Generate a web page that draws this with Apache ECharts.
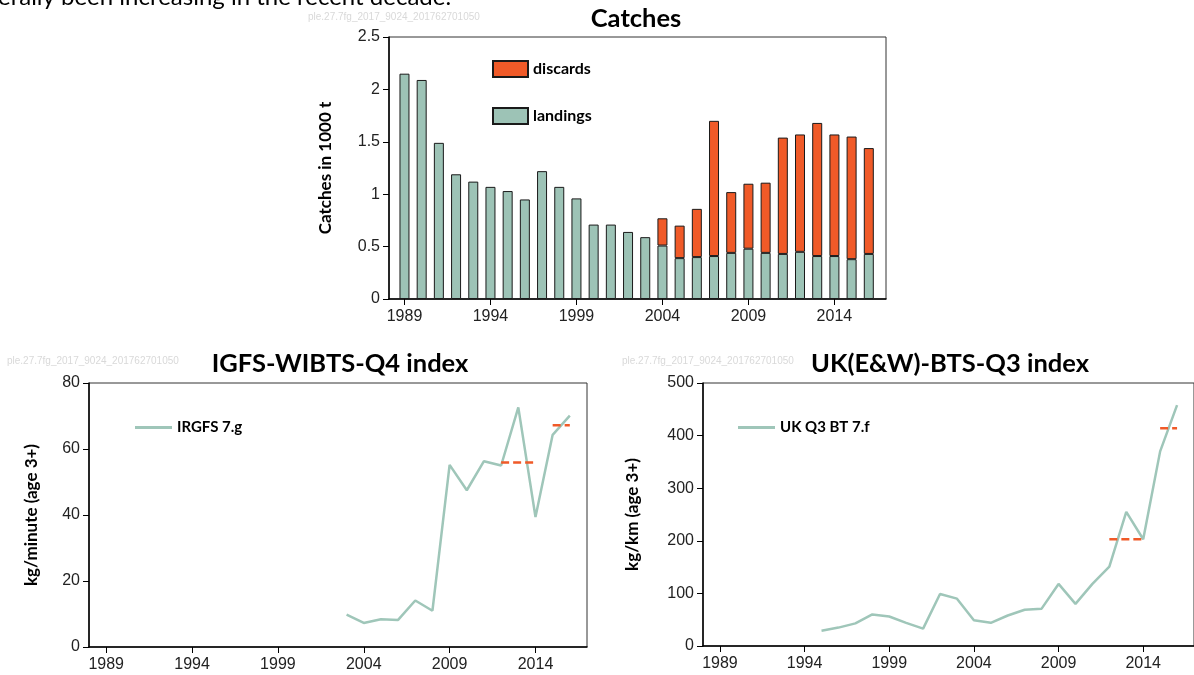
<!DOCTYPE html>
<html>
<head>
<meta charset="utf-8">
<title>Catches and survey indices</title>
<script src="https://cdn.jsdelivr.net/npm/echarts@6/dist/echarts.min.js"></script>
<style>
html, body { margin: 0; padding: 0; background: #fff; }
#main { width: 1194px; height: 675px; }
</style>
</head>
<body>
<div id="main"></div>
<script>
// catches (1000 t)
var years = [1989, 1990, 1991, 1992, 1993, 1994, 1995, 1996, 1997, 1998, 1999, 2000, 2001, 2002,
             2003, 2004, 2005, 2006, 2007, 2008, 2009, 2010, 2011, 2012, 2013, 2014, 2015, 2016];
var landings = [2.15, 2.09, 1.49, 1.19, 1.12, 1.07, 1.03, 0.95, 1.22, 1.07, 0.96, 0.71, 0.71, 0.64,
                0.59, 0.51, 0.39, 0.40, 0.41, 0.44, 0.48, 0.44, 0.43, 0.45, 0.41, 0.41, 0.38, 0.43];
var discards = [null, null, null, null, null, null, null, null, null, null, null, null, null, null,
                null, 0.26, 0.31, 0.46, 1.29, 0.58, 0.62, 0.67, 1.11, 1.12, 1.27, 1.16, 1.17, 1.01];
var yearTicks = [1989, 1994, 1999, 2004, 2009, 2014];

// IGFS-WIBTS-Q4 index (kg/minute)
var igfsYears = [2003, 2004, 2005, 2006, 2007, 2008, 2009, 2010, 2011, 2012, 2013, 2014, 2015, 2016];
var igfsIndex = [9.8, 7.3, 8.4, 8.2, 14.1, 11.0, 55.2, 47.5, 56.3, 55.0, 72.6, 39.4, 64.3, 70.1];
// UK(E&W)-BTS-Q3 index (kg/km)
var ukYears = [1995, 1996, 1997, 1998, 1999, 2000, 2001, 2002, 2003, 2004, 2005,
               2006, 2007, 2008, 2009, 2010, 2011, 2012, 2013, 2014, 2015, 2016];
var ukIndex = [29, 35, 43, 60, 56, 44, 33, 99, 90, 49, 44,
               58, 69, 71, 118, 80, 118, 151, 255, 203, 370, 458];
// dashed averages: 2012-2014 and 2015-2016
var meanPeriods = [[2012, 2014], [2015, 2016]];
var igfsMeans = [55.9, 67.2];
var ukMeans = [203, 414];

var tealFill = '#9dc3b6';
var teal = '#9fc6b9';
var orange = '#f05a28';
var tickFont = 'Liberation Sans, Arial, sans-serif';
var boldFont = 'Lato, Open Sans, sans-serif';

var myChart = echarts.init(document.getElementById('main'));

function xAxisFor(gi, min) {
    return {
        type: 'value', gridIndex: gi, min: min, max: 2017,
        axisLine: { show: true, onZero: false, lineStyle: { color: '#000', width: 1.5 } },
        axisTick: { show: true, customValues: yearTicks, length: 6, lineStyle: { color: '#000', width: 1 } },
        axisLabel: {
            customValues: yearTicks, margin: 10, fontSize: 16, fontFamily: tickFont, color: '#222',
            formatter: function (v) { return String(v); }
        },
        splitLine: { show: false }
    };
}

function yAxisFor(gi, max, interval, name, gap) {
    return {
        type: 'value', gridIndex: gi, min: 0, max: max, interval: interval,
        name: name, nameLocation: 'middle', nameGap: gap, nameRotate: 90,
        nameTextStyle: { fontSize: 17, fontWeight: 'bold', fontFamily: boldFont, color: '#000' },
        axisLine: { show: true, lineStyle: { color: '#000', width: 1.5 } },
        axisTick: { show: true, length: 6, lineStyle: { color: '#000', width: 1 } },
        axisLabel: { margin: 9, fontSize: 16, fontFamily: tickFont, color: '#222' },
        splitLine: { show: false }
    };
}

function pairs(xs, ys) {
    return xs.map(function (x, i) { return [x, ys[i]]; });
}

var series = [
    // bars live on a hidden category axis laid exactly over the year scale of grid 0
    {
        name: 'landings', type: 'bar', stack: 'catch', xAxisIndex: 3, yAxisIndex: 3,
        barWidth: 10,
        itemStyle: { color: tealFill, borderColor: '#1a1a1a', borderWidth: 1 },
        data: landings
    },
    {
        name: 'discards', type: 'bar', stack: 'catch', xAxisIndex: 3, yAxisIndex: 3,
        barWidth: 10,
        itemStyle: { color: orange, borderColor: '#1a1a1a', borderWidth: 1 },
        data: discards
    },
    {
        name: 'IRGFS 7.g', type: 'line', xAxisIndex: 1, yAxisIndex: 1,
        symbol: 'none', lineStyle: { color: teal, width: 2.5 }, itemStyle: { color: teal },
        data: pairs(igfsYears, igfsIndex)
    },
    {
        name: 'UK Q3 BT 7.f', type: 'line', xAxisIndex: 2, yAxisIndex: 2,
        symbol: 'none', lineStyle: { color: teal, width: 2.5 }, itemStyle: { color: teal },
        data: pairs(ukYears, ukIndex)
    }
];

// dashed mean lines
meanPeriods.forEach(function (p, i) {
    series.push({
        name: 'igfsMean' + i, type: 'line', xAxisIndex: 1, yAxisIndex: 1, symbol: 'none', z: 3,
        lineStyle: { color: orange, width: 2.5, type: [8, 4] },
        data: [[p[0], igfsMeans[i]], [p[1], igfsMeans[i]]]
    });
    series.push({
        name: 'ukMean' + i, type: 'line', xAxisIndex: 2, yAxisIndex: 2, symbol: 'none', z: 3,
        lineStyle: { color: orange, width: 2.5, type: [8, 4] },
        data: [[p[0], ukMeans[i]], [p[1], ukMeans[i]]]
    });
});

function label(text, x, y, size, weight, color, font, align) {
    return {
        type: 'text', x: x, y: y, silent: true,
        style: {
            text: text, fontSize: size, fontWeight: weight, fill: color, fontFamily: font,
            align: align || 'left', verticalAlign: 'middle'
        }
    };
}

// top frame: 1988.1 .. 2017 over 497 px
var topLeft = 389, topWidth = 497, topMin = 1988.1, topMax = 2017;
var pxPerYear = topWidth / (topMax - topMin);
var barGridLeft = topLeft + (years[0] - 0.5 - topMin) * pxPerYear;

var option = {
    animation: false,
    backgroundColor: '#fff',
    grid: [
        { left: topLeft, top: 37, width: topWidth, height: 262, show: true, borderColor: '#333', borderWidth: 1 },
        { left: 89, top: 383, width: 498, height: 264, show: true, borderColor: '#333', borderWidth: 1 },
        { left: 703, top: 383, width: 498, height: 263, show: true, borderColor: '#333', borderWidth: 1 },
        { left: barGridLeft, top: 37, width: years.length * pxPerYear, height: 262, show: false }
    ],
    xAxis: [
        xAxisFor(0, topMin), xAxisFor(1, 1988), xAxisFor(2, 1988),
        {
            type: 'category', gridIndex: 3, data: years, boundaryGap: true,
            axisLine: { show: false }, axisTick: { show: false }, axisLabel: { show: false },
            splitLine: { show: false }
        }
    ],
    yAxis: [
        yAxisFor(0, 2.5, 0.5, 'Catches in 1000 t', 55),
        yAxisFor(1, 80, 20, 'kg/minute (age 3+)', 49),
        yAxisFor(2, 500, 100, 'kg/km (age 3+)', 62),
        {
            type: 'value', gridIndex: 3, min: 0, max: 2.5, interval: 0.5,
            axisLine: { show: false }, axisTick: { show: false }, axisLabel: { show: false },
            splitLine: { show: false }
        }
    ],
    legend: [
        {
            data: ['discards', 'landings'], orient: 'vertical', left: 487, top: 55,
            itemWidth: 35, itemHeight: 16, itemGap: 29, icon: 'rect',
            textStyle: { fontSize: 16, fontWeight: 'bold', fontFamily: boldFont, color: '#000' }
        },
        {
            data: ['IRGFS 7.g'], left: 130, top: 415, itemWidth: 37, itemHeight: 3, icon: 'rect',
            itemStyle: { color: teal },
            textStyle: { fontSize: 15, fontWeight: 'bold', fontFamily: boldFont, color: '#000' }
        },
        {
            data: ['UK Q3 BT 7.f'], left: 733, top: 415, itemWidth: 37, itemHeight: 3, icon: 'rect',
            itemStyle: { color: teal },
            textStyle: { fontSize: 15, fontWeight: 'bold', fontFamily: boldFont, color: '#000' }
        }
    ],
    graphic: [
        label('erally been increasing in the recent decade.', -2, -3, 24, 'normal', '#000', boldFont),
        label('ple.27.7fg_2017_9024_201762701050', 308, 17, 10, 'normal', '#d9d9d9', tickFont),
        label('ple.27.7fg_2017_9024_201762701050', 7, 361, 10, 'normal', '#d9d9d9', tickFont),
        label('ple.27.7fg_2017_9024_201762701050', 622, 361, 10, 'normal', '#d9d9d9', tickFont),
        label('Catches', 636, 19, 25.5, 'bold', '#000', boldFont, 'center'),
        label('IGFS-WIBTS-Q4 index', 340, 364, 25.5, 'bold', '#000', boldFont, 'center'),
        label('UK(E&W)-BTS-Q3 index', 950, 364, 25.5, 'bold', '#000', boldFont, 'center')
    ],
    series: series
};

myChart.setOption(option);
</script>
</body>
</html>
